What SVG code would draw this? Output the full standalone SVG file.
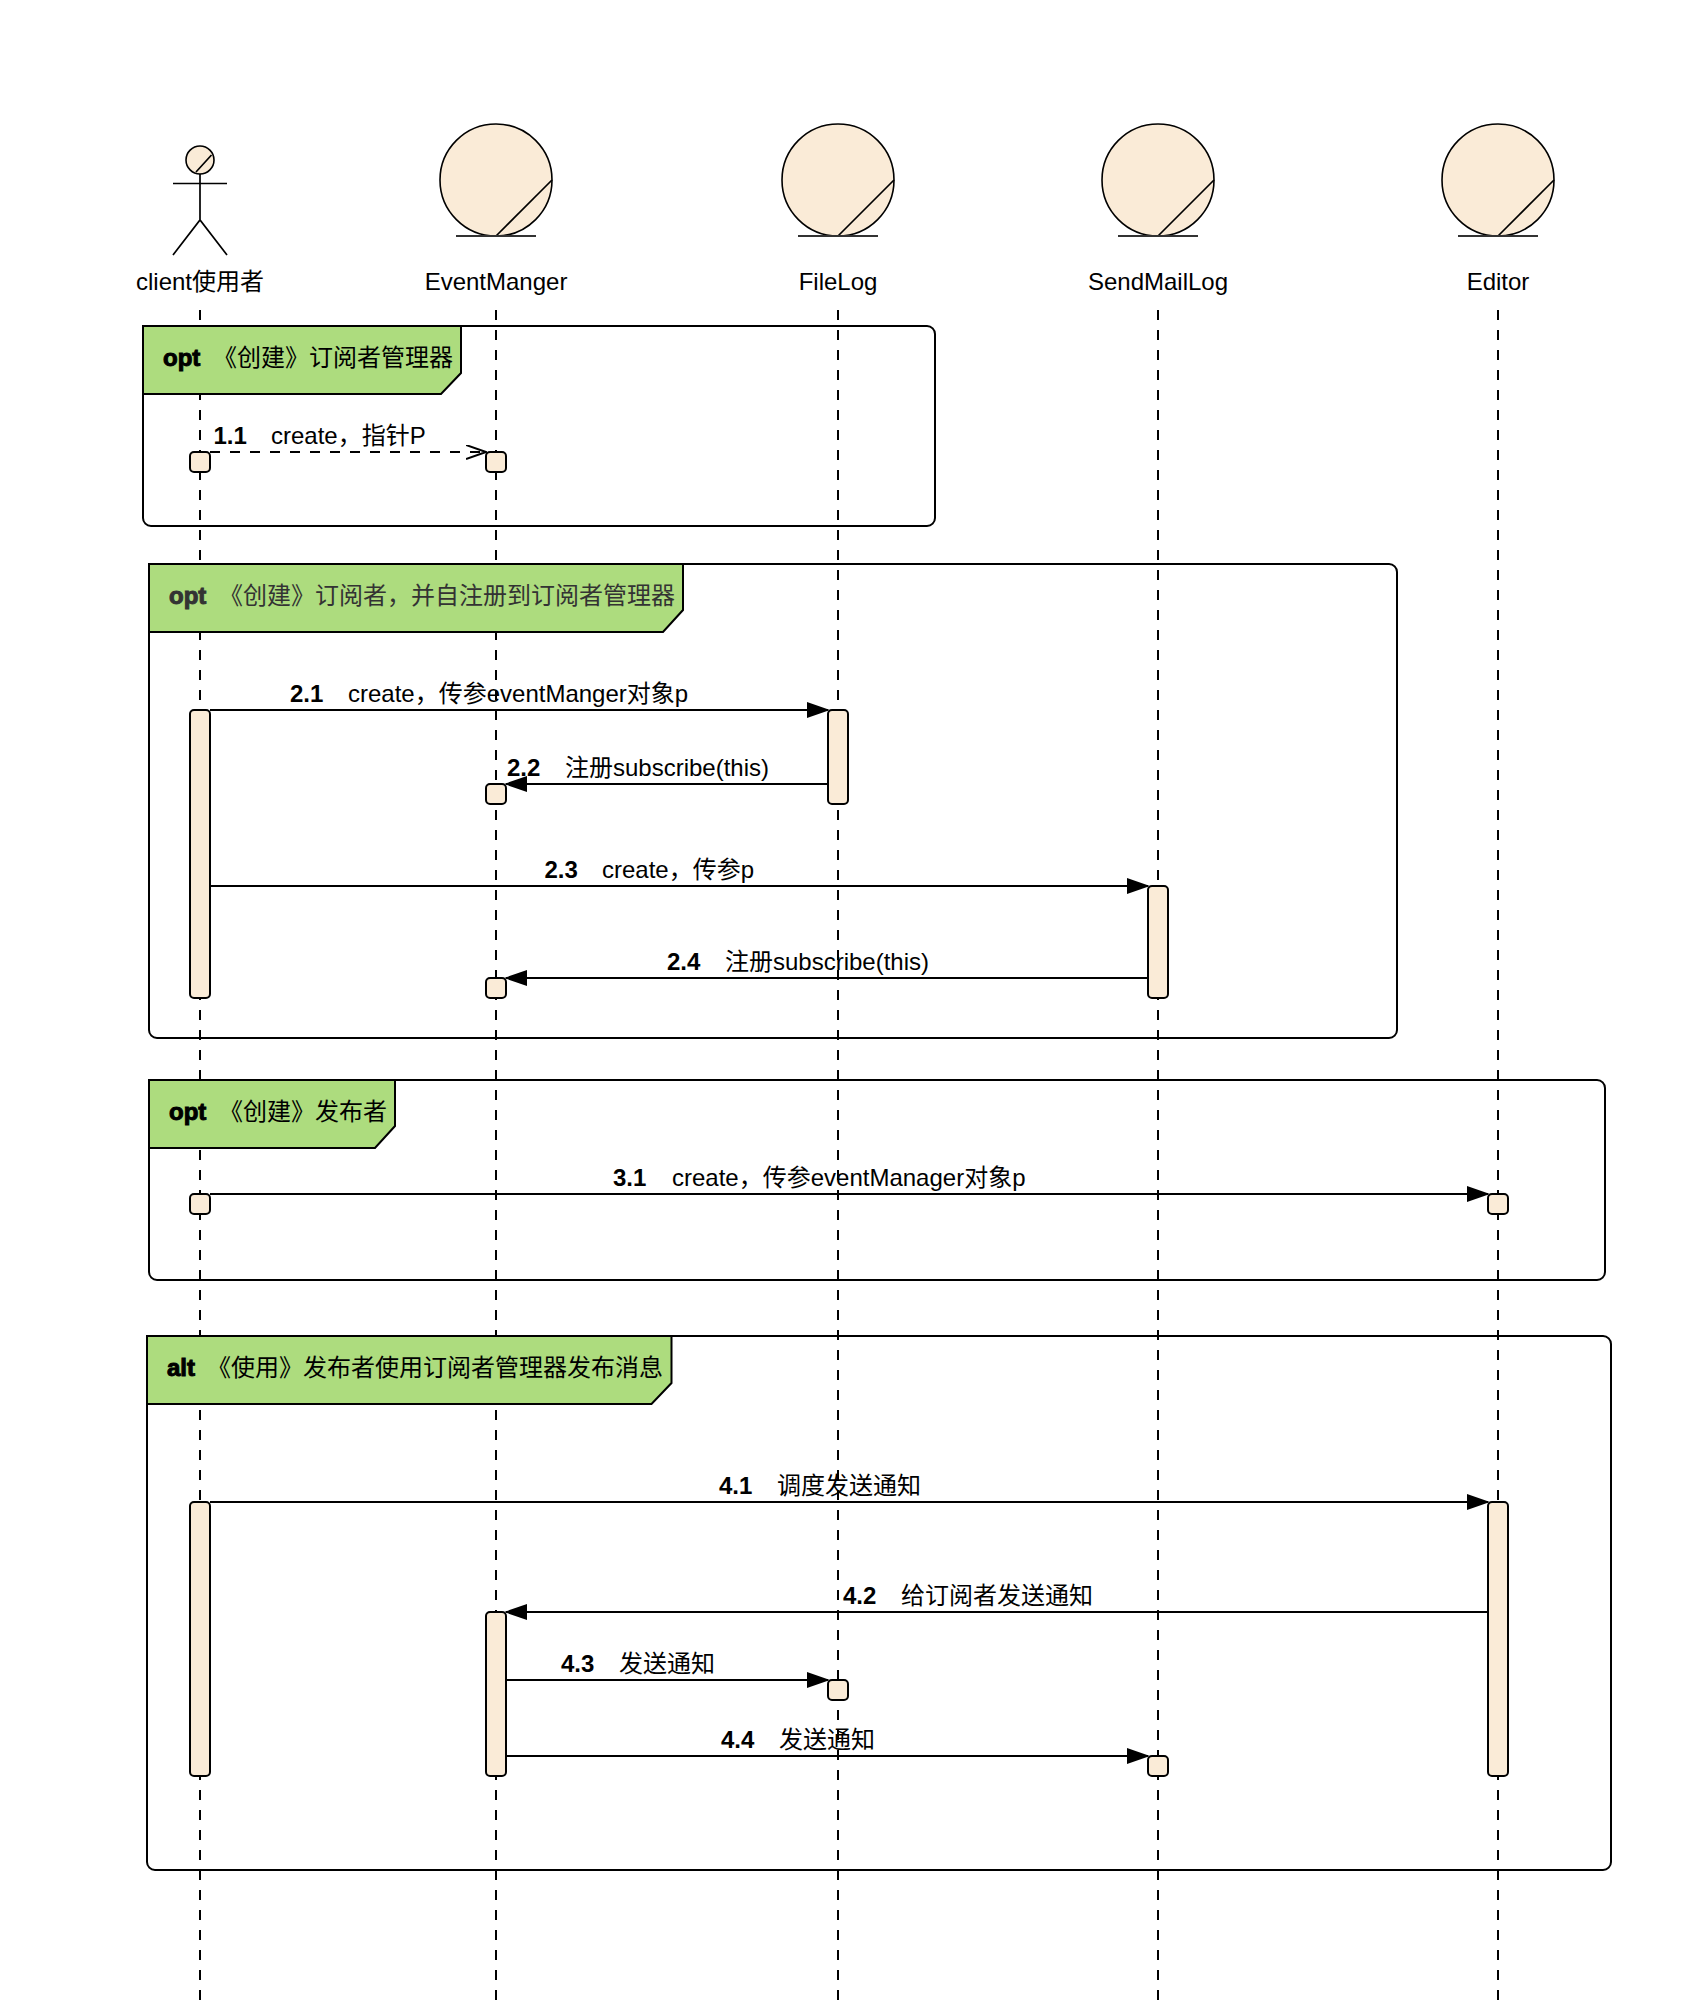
<svg xmlns="http://www.w3.org/2000/svg" width="1698" height="2006" viewBox="0 0 1698 2006">
<style>
text{font-family:"Liberation Sans","Noto Sans CJK SC",sans-serif;font-size:24px;fill:#000}
.name{text-anchor:middle}
.num{font-weight:700}
.kw{font-weight:700;stroke:#000;stroke-width:1}
.life{fill:none;stroke:#000;stroke-width:2;stroke-dasharray:10 10}
.msg{fill:none;stroke:#000;stroke-width:2;marker-end:url(#solid)}
.ret{fill:none;stroke:#000;stroke-width:2;stroke-dasharray:10 10;marker-end:url(#open)}
.frame{fill:none;stroke:#000;stroke-width:2}
.tag{fill:#ADDC7E;stroke:#000;stroke-width:2}
.act{fill:#FAEBD7;stroke:#000;stroke-width:2}
.obj{fill:#FAEBD7;stroke:#000;stroke-width:1.6}
.ln{fill:none;stroke:#000;stroke-width:1.7}
.base{fill:none;stroke:#333;stroke-width:2}
</style>
<defs>
<marker id="solid" markerUnits="userSpaceOnUse" viewBox="0 0 23 16" refX="21" refY="8" markerWidth="23" markerHeight="16" orient="auto"><path d="M0 0L23 8L0 16Z" fill="#000"/></marker>
<marker id="open" markerUnits="userSpaceOnUse" viewBox="0 0 21 16" refX="20" refY="7" markerWidth="21" markerHeight="16" orient="auto"><path d="M0 0L20 7L0 14" fill="none" stroke="#000" stroke-width="2"/></marker>
</defs>
<g id="lifelines">
<path class="life" d="M200 310V2000"/>
<path class="life" d="M496 310V2000"/>
<path class="life" d="M838 310V2000"/>
<path class="life" d="M1158 310V2000"/>
<path class="life" d="M1498 310V2000"/>
</g>
<g id="frame1">
<rect class="frame" x="143" y="326" width="792" height="200" rx="8"/>
<path class="tag" d="M143 326H461V373L441 394H143Z"/>
<text class="kw" x="163" y="366">opt</text><text x="213" y="366">《创建》订阅者管理器</text>
</g>
<g id="frame2">
<rect class="frame" x="149" y="564" width="1248" height="474" rx="8"/>
<path class="tag" d="M149 564H683V610L663 632H149Z"/>
<text class="kw" x="169" y="604" style="fill:#333;stroke:#333">opt</text><text x="219" y="604" style="fill:#333">《创建》订阅者，并自注册到订阅者管理器</text>
</g>
<g id="frame3">
<rect class="frame" x="149" y="1080" width="1456" height="200" rx="8"/>
<path class="tag" d="M149 1080H395V1126L375 1148H149Z"/>
<text class="kw" x="169" y="1120">opt</text><text x="219" y="1120">《创建》发布者</text>
</g>
<g id="frame4">
<rect class="frame" x="147" y="1336" width="1464" height="534" rx="8"/>
<path class="tag" d="M147 1336H671.500V1383L651.500 1404H147Z"/>
<text class="kw" x="167" y="1376">alt</text><text x="207" y="1376">《使用》发布者使用订阅者管理器发布消息</text>
</g>
<g id="client">
<circle class="obj" cx="200" cy="160" r="14"/>
<path class="ln" d="M196 172L211.500 155M200 174V220M173 183.500H227M173 255L200 220L227 255"/>
<text class="name" x="200" y="290">client使用者</text>
</g>
<g id="eventManger">
<circle class="obj" cx="496" cy="180" r="56"/>
<path class="ln" d="M496 236L552 180"/><path class="base" d="M456 236H536"/>
<text class="name" x="496" y="290">EventManger</text>
</g>
<g id="fileLog">
<circle class="obj" cx="838" cy="180" r="56"/>
<path class="ln" d="M838 236L894 180"/><path class="base" d="M798 236H878"/>
<text class="name" x="838" y="290">FileLog</text>
</g>
<g id="sendMailLog">
<circle class="obj" cx="1158" cy="180" r="56"/>
<path class="ln" d="M1158 236L1214 180"/><path class="base" d="M1118 236H1198"/>
<text class="name" x="1158" y="290">SendMailLog</text>
</g>
<g id="editor">
<circle class="obj" cx="1498" cy="180" r="56"/>
<path class="ln" d="M1498 236L1554 180"/><path class="base" d="M1458 236H1538"/>
<text class="name" x="1498" y="290">Editor</text>
</g>
<g id="activations">
<rect class="act" x="190" y="452" width="20" height="20" rx="4"/>
<rect class="act" x="486" y="452" width="20" height="20" rx="4"/>
<rect class="act" x="190" y="710" width="20" height="288" rx="4"/>
<rect class="act" x="828" y="710" width="20" height="94" rx="4"/>
<rect class="act" x="486" y="784" width="20" height="20" rx="4"/>
<rect class="act" x="1148" y="886" width="20" height="112" rx="4"/>
<rect class="act" x="486" y="978" width="20" height="20" rx="4"/>
<rect class="act" x="190" y="1194" width="20" height="20" rx="4"/>
<rect class="act" x="1488" y="1194" width="20" height="20" rx="4"/>
<rect class="act" x="190" y="1502" width="20" height="274" rx="4"/>
<rect class="act" x="1488" y="1502" width="20" height="274" rx="4"/>
<rect class="act" x="486" y="1612" width="20" height="164" rx="4"/>
<rect class="act" x="828" y="1680" width="20" height="20" rx="4"/>
<rect class="act" x="1148" y="1756" width="20" height="20" rx="4"/>
</g>
<g id="connectors">
<path class="ret" d="M210 452H486"/>
<path class="msg" d="M210 710H828"/>
<path class="msg" d="M828 784H506"/>
<path class="msg" d="M210 886H1148"/>
<path class="msg" d="M1148 978H506"/>
<path class="msg" d="M210 1194H1488"/>
<path class="msg" d="M210 1502H1488"/>
<path class="msg" d="M1488 1612H506"/>
<path class="msg" d="M506 1680H828"/>
<path class="msg" d="M506 1756H1148"/>
<text class="num" x="213.500" y="444">1.1</text><text x="271" y="444">create，指针P</text>
<text class="num" x="290" y="702">2.1</text><text x="348" y="702">create，传参eventManger对象p</text>
<text class="num" x="507" y="776">2.2</text><text x="565" y="776">注册subscribe(this)</text>
<text class="num" x="544.500" y="878">2.3</text><text x="602" y="878">create，传参p</text>
<text class="num" x="667" y="970">2.4</text><text x="725" y="970">注册subscribe(this)</text>
<text class="num" x="613" y="1186">3.1</text><text x="672" y="1186">create，传参eventManager对象p</text>
<text class="num" x="719" y="1494">4.1</text><text x="777" y="1494">调度发送通知</text>
<text class="num" x="843" y="1604">4.2</text><text x="901" y="1604">给订阅者发送通知</text>
<text class="num" x="561" y="1672">4.3</text><text x="619" y="1672">发送通知</text>
<text class="num" x="721" y="1748">4.4</text><text x="779" y="1748">发送通知</text>
</g>
</svg>
